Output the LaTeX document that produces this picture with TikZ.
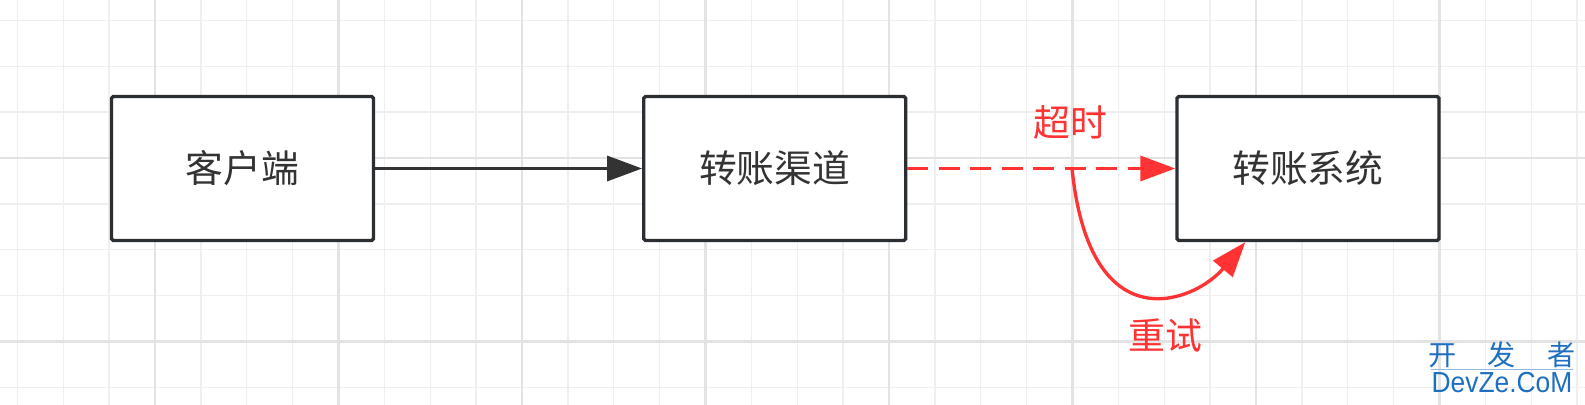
\documentclass[tikz,border=0pt]{standalone}
\usepackage{fontspec}
\newfontfamily\cjk{Noto Sans CJK SC}
\newfontfamily\markfont{Liberation Sans}
\usetikzlibrary{arrows.meta,positioning,calc}
\definecolor{boxline}{HTML}{2B2F33}
\definecolor{txtgray}{HTML}{333333}
\definecolor{timeoutred}{HTML}{FF3333}
\definecolor{gridminor}{HTML}{EFEFEF}
\definecolor{gridmajor}{HTML}{E3E3E3}
\definecolor{markblue}{HTML}{1E6FC0}
\tikzset{box/.style={draw=boxline, line width=1.9pt, rounded corners=1pt, fill=white, minimum width=5.24cm, minimum height=2.88cm, font=\cjk\fontsize{21.5pt}{21.5pt}\selectfont, text=txtgray}}
\tikzstyle{lbl}=[text=timeoutred, font=\cjk\fontsize{21pt}{21pt}\selectfont]
\tikzstyle{tip}=[-{Triangle[length=0.7cm, width=0.5cm]}, line width=1.9pt]
\begin{document}
\begin{tikzpicture}[x=0.02cm, y=-0.02cm]
\useasboundingbox (0,0) rectangle (1585,405);
% grid
\foreach \i in {-3,...,31} \draw[gridminor, line width=0.8pt] ({155+45.875*\i},0) -- ++(0,405);
\foreach \j in {-3,...,5} \draw[gridminor, line width=0.8pt] (0,{158+45.875*\j}) -- ++(1585,0);
\foreach \i in {-1,...,8} \draw[gridmajor, line width=1.3pt] ({155+183.5*\i},0) -- ++(0,405);
\foreach \j in {0,1} \draw[gridmajor, line width=1.3pt] (0,{158+183.5*\j}) -- ++(1585,0);

\node[box] (kehu) at (242.5,168.5) {客户端};
\node[box, right=5.34cm of kehu] (qudao) {转账渠道};
\node[box, right=5.36cm of qudao] (xitong) {转账系统};

\coordinate (split) at (1072,168.5);
\coordinate (retry) at ($(xitong.south west)+(70,0)$);

\draw[tip, draw=txtgray] (kehu) -- (qudao);
\draw[tip, draw=timeoutred, dash pattern=on 0.42cm off 0.21cm] (qudao) -- (xitong);
\draw[tip, draw=timeoutred] (split) .. controls (1090,345) and (1195,302) .. (retry);

\node[lbl] (chaoshi) at (1070,122) {超时};
\node[lbl] (chongshi) at (1165,336) {重试};

% watermark
\node[text=markblue, font=\cjk\fontsize{16pt}{16pt}\selectfont] (kfz) at (1502,355) {开\hspace{0.62cm}发\hspace{0.62cm}者};
\node[text=markblue, font=\markfont\fontsize{16.5pt}{16.5pt}\selectfont, inner sep=0pt] (devze) at (1502,383) {\scalebox{0.91}[1]{DevZe.CoM}};
\draw[markblue!50, line width=0.6pt] (devze.north west) ++(0,-3) -- ($(devze.north east)+(0,-3)$);
\end{tikzpicture}
\end{document}
